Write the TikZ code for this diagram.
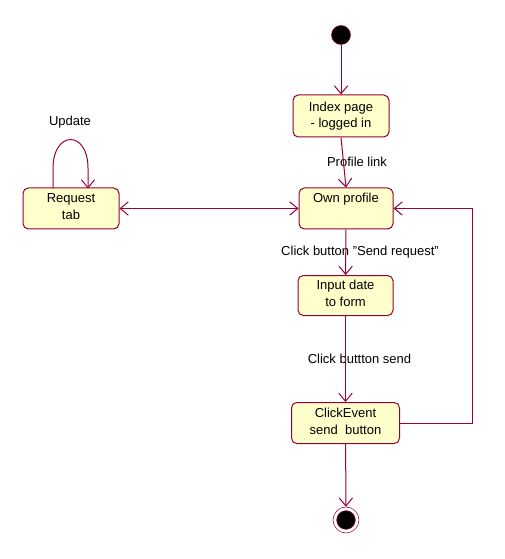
\documentclass[tikz,border=0pt]{standalone}
\usepackage{fontspec}
\setmainfont{Liberation Sans}
\usepackage{xcolor}
\usepackage{tikz}
\usetikzlibrary{arrows.meta}

\definecolor{rose}{HTML}{990033}
\definecolor{cream}{HTML}{FFFFCC}

\begin{document}
\begin{tikzpicture}[x=0.75pt, y=-0.75pt,
        font=\fontsize{9.75}{12.5}\selectfont,
        >={Straight Barb[length=6pt, width=10pt]},
        state/.style={rectangle, rounded corners=4pt, draw=rose, fill=cream, line width=0.75pt, align=center, inner sep=0pt},
        flow/.style={draw=rose, line width=0.75pt},
        lbl/.style={inner sep=0pt}]
        \useasboundingbox (0, 0) rectangle (505, 559);
        \node (start) at (341, 35) [circle, draw=rose, fill = black, minimum size = 14.25pt, inner sep = 0pt] {};
        \node (index) at (341, 116) [state, minimum width = 72pt, minimum height = 31.5pt] {Index page\\ - logged in};
        \node (own) at (346, 208.5) [state, minimum width = 70.5pt, minimum height = 30.75pt] {Own profile\\[3pt] \mbox{}};
        \node (req) at (71, 208.5) [state, minimum width = 72pt, minimum height = 30.75pt] {Request\\ tab\\[-9.5pt] \mbox{}};
        \node (input) at (345.5, 295.5) [state, minimum width = 71.25pt, minimum height = 30pt] {Input date\\ to form\\[-9.5pt] \mbox{}};
        \node (click) at (345.5, 423) [state, minimum width = 81pt, minimum height = 30.75pt] {ClickEvent\\ send\ \ button\\[-9.5pt] \mbox{}};
        \node (end) at (346, 520) [circle, draw=rose, fill = white, minimum size = 19.5pt, inner sep = 0pt] {};
        \node (endin) at (346, 520) [circle, draw=rose, fill = black, minimum size = 14pt, inner sep = 0pt] {};
        \node (update) at (70, 122) [lbl] {Update};
        \node (plink) at (357, 162) [lbl] {Profile link};
        \node (sendreq) at (360, 252) [lbl] {Click button "Send request"};
        \node (sendbtn) at (359.5, 359) [lbl] {Click buttton send};
        \coordinate (loopout) at (53, 188.5);
        \coordinate (loopin) at (88, 188.5);
        \coordinate (back) at (472, 300);
        \draw [flow, ->] (start) -- (index);
        \draw [flow, ->] (index.south) -- (own.north);
        \draw [flow, <->] (req.east) -- (own.west);
        \draw [flow, ->] (loopout) -- ++(0, -20) .. controls (53, 130) and (88, 130) .. (88, 168) -- (loopin);
        \draw [flow, ->] (own) -- (input);
        \draw [flow, ->] (input) -- (click);
        \draw [flow, ->] (click.east) -| (back) |- (own.east);
        \draw [flow, ->] (click) -- (end);
    \end{tikzpicture}
\end{document}
